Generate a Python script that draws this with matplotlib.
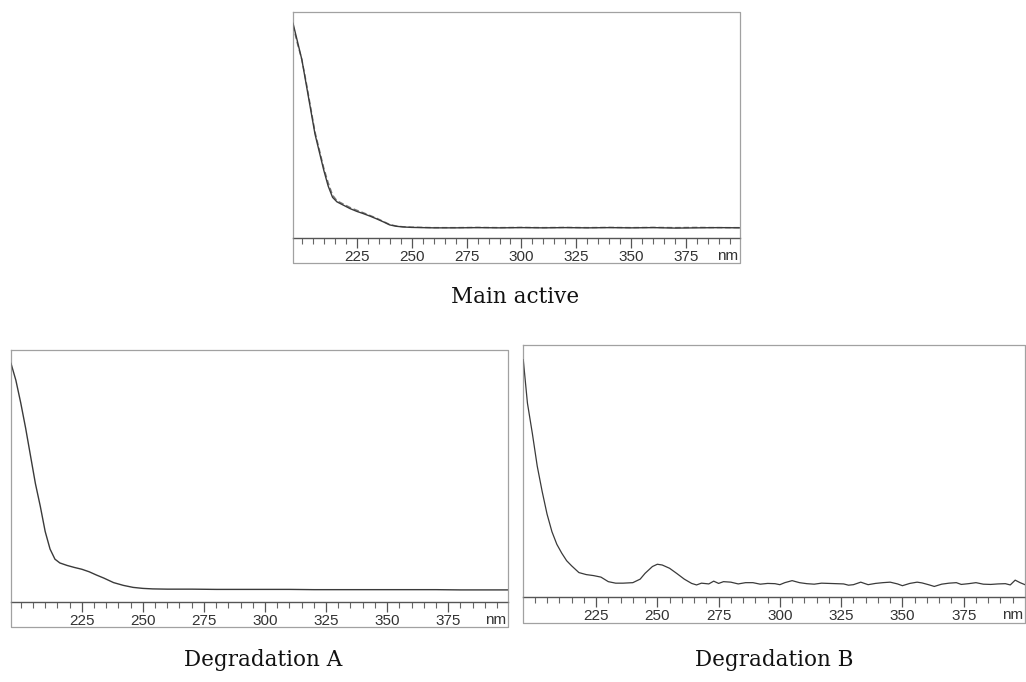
import matplotlib
matplotlib.use("Agg")
import matplotlib.pyplot as plt
from matplotlib.lines import Line2D
import numpy as np

# Spectra (wavelength in nm, absorbance in arbitrary units)
main_wl = [196, 198, 200, 202, 204, 206, 208, 210, 212, 214, 216, 219, 222, 225, 228,
           231, 234, 237, 240, 243, 246, 250, 255, 260, 270, 280, 290, 300, 310, 320,
           330, 340, 350, 360, 370, 380, 390, 400]
main_abs = [0.95, 0.87, 0.79, 0.68, 0.57, 0.46, 0.38, 0.30, 0.23, 0.18, 0.16, 0.145, 0.13,
            0.118, 0.108, 0.097, 0.085, 0.072, 0.058, 0.052, 0.049, 0.047, 0.046, 0.045,
            0.045, 0.046, 0.045, 0.046, 0.045, 0.046, 0.045, 0.046, 0.045, 0.046, 0.044,
            0.045, 0.046, 0.045]
main_abs_rep = [0.94, 0.86, 0.79, 0.69, 0.58, 0.47, 0.39, 0.31, 0.245, 0.19, 0.165, 0.15,
                0.135, 0.123, 0.112, 0.10, 0.088, 0.074, 0.06, 0.053, 0.05, 0.048, 0.047,
                0.046, 0.046, 0.047, 0.046, 0.047, 0.046, 0.047, 0.046, 0.047, 0.046, 0.047,
                0.046, 0.047, 0.046, 0.046]

deg_a_wl = [196, 198, 200, 202, 204, 206, 208, 210, 212, 214, 216, 219, 222, 225, 228,
            231, 234, 238, 242, 246, 250, 254, 260, 270, 280, 290, 300, 310, 320, 330,
            340, 350, 360, 370, 380, 390, 399.5]
deg_a_abs = [0.947, 0.88, 0.79, 0.69, 0.58, 0.47, 0.38, 0.28, 0.21, 0.17, 0.155, 0.145,
             0.137, 0.13, 0.12, 0.107, 0.095, 0.077, 0.066, 0.058, 0.054, 0.052, 0.051,
             0.051, 0.050, 0.050, 0.050, 0.050, 0.049, 0.049, 0.049, 0.049, 0.049, 0.049,
             0.048, 0.048, 0.048]

deg_b_wl = [195.3, 197, 199, 201, 203, 205, 207, 209, 211, 213, 215, 218, 221, 224, 227,
            230, 233, 236, 240, 243, 245, 248, 250, 252, 255, 258, 261, 264, 266, 268,
            271, 273, 275, 277, 280, 283, 286, 289, 292, 295, 298, 300, 302, 305, 308,
            311, 314, 317, 320, 323, 326, 328, 330, 333, 336, 339, 342, 345, 348, 350,
            353, 356, 358, 361, 363, 366, 369, 372, 374, 377, 380, 383, 386, 389, 392,
            394, 396, 398, 400]
deg_b_abs = [0.942, 0.77, 0.65, 0.52, 0.42, 0.33, 0.26, 0.21, 0.175, 0.145, 0.125, 0.098,
             0.090, 0.086, 0.080, 0.062, 0.056, 0.056, 0.058, 0.072, 0.095, 0.122, 0.131,
             0.128, 0.115, 0.094, 0.072, 0.055, 0.049, 0.056, 0.053, 0.064, 0.055, 0.062,
             0.060, 0.053, 0.058, 0.058, 0.052, 0.055, 0.054, 0.050, 0.058, 0.066, 0.058,
             0.054, 0.052, 0.056, 0.055, 0.054, 0.053, 0.048, 0.050, 0.060, 0.050, 0.055,
             0.058, 0.060, 0.053, 0.046, 0.055, 0.060, 0.057, 0.049, 0.043, 0.052, 0.056,
             0.058, 0.051, 0.054, 0.058, 0.052, 0.051, 0.053, 0.054, 0.049, 0.068, 0.058,
             0.050]

major_ticks = [225, 250, 275, 300, 325, 350, 375]
captions = ["Main active", "Degradation A", "Degradation B"]

line_color = "#3a3a3a"
frame_color = "#8a8a8a"
text_color = "#333333"

fig = plt.figure(figsize=(10.26, 6.82), dpi=100)


def spectrum_panel(rect, frame_bottom, xlim):
    ax = fig.add_axes(rect)
    ax.set_xlim(*xlim)
    ax.set_ylim(0, 1)
    for side in ["top", "left", "right"]:
        ax.spines[side].set_visible(False)
    ax.spines["bottom"].set_color("#555555")
    ax.spines["bottom"].set_linewidth(1.0)
    ax.set_yticks([])
    ax.set_xticks(major_ticks)
    ax.set_xticks(np.arange(200, 400, 5), minor=True)
    ax.tick_params(axis="x", which="major", direction="out", length=7, width=0.9,
                   colors="#555555", labelcolor=text_color, labelsize=11, pad=1.5)
    ax.tick_params(axis="x", which="minor", direction="out", length=4, width=0.8,
                   colors="#666666")
    for lbl in ax.get_xticklabels():
        lbl.set_fontfamily("Liberation Sans")
    ax.annotate("nm", xy=(1, 0), xycoords="axes fraction", xytext=(-1, -13),
                textcoords="offset points", ha="right", va="center",
                fontsize=11, color=text_color, family="Liberation Sans")
    # outer frame of the scanned instrument printout
    x0, y0, w, h = rect
    xs = [x0, x0 + w, x0 + w, x0, x0]
    ys = [y0 + h, y0 + h, frame_bottom, frame_bottom, y0 + h]
    fig.add_artist(Line2D(xs, ys, transform=fig.transFigure, color=frame_color,
                          lw=0.9, alpha=0.8))
    return ax


ax_top = spectrum_panel([0.2856, 0.651, 0.4357, 0.3314], 0.6144, (196, 399.5))
ax_top.plot(main_wl, main_abs_rep, color="#7a7a7a", lw=1.0, ls=(0, (4, 2)))
ax_top.plot(main_wl, main_abs, color=line_color, lw=1.0)

ax_a = spectrum_panel([0.0107, 0.1173, 0.4844, 0.3695], 0.0806, (196, 399.5))
ax_a.plot(deg_a_wl, deg_a_abs, color=line_color, lw=1.0)

ax_b = spectrum_panel([0.51, 0.1242, 0.489, 0.3699], 0.0865, (195.3, 400))
ax_b.plot(deg_b_wl, deg_b_abs, color=line_color, lw=0.9)

fig.text(0.502, 0.5645, captions[0], ha="center", va="center", fontsize=15.5,
         family="DejaVu Serif", color="#111111")
fig.text(0.256, 0.032, captions[1], ha="center", va="center", fontsize=15.5,
         family="DejaVu Serif", color="#111111")
fig.text(0.755, 0.032, captions[2], ha="center", va="center", fontsize=15.5,
         family="DejaVu Serif", color="#111111")

fig.savefig("out.png", dpi=100, facecolor="white")
